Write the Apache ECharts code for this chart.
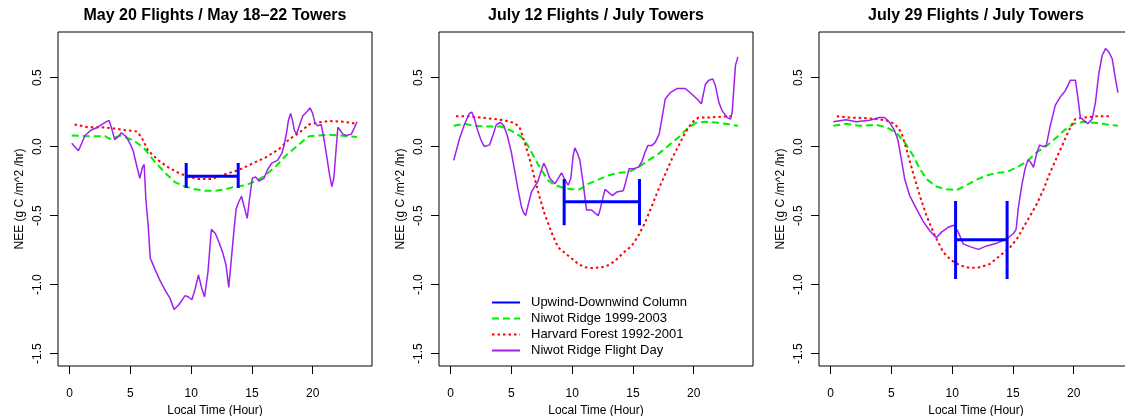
<!DOCTYPE html>
<html><head><meta charset="utf-8">
<script src="https://cdn.jsdelivr.net/npm/echarts@6/dist/echarts.min.js"></script>
<style>html,body{margin:0;padding:0;background:#fff}#c{width:1125px;height:416px}</style>
</head><body><div id="c"></div>
<script>
// ---------- data ----------
const panelTitles = ['May 20 Flights / May 18\u201322 Towers', 'July 12 Flights / July Towers', 'July 29 Flights / July Towers'];
const xTicks = [0, 5, 10, 15, 20];
const yTicks = [-1.5, -1.0, -0.5, 0.0, 0.5];
const seriesNames = ['Upwind-Downwind Column', 'Niwot Ridge 1999-2003', 'Harvard Forest 1992-2001', 'Niwot Ridge Flight Day'];

// Upwind-downwind column (per panel): start hour, end hour, value, lower, upper
const colStart = [9.59, 9.34, 10.28];
const colEnd = [13.87, 15.54, 14.52];
const colValue = [-0.215, -0.40, -0.675];
const colLow = [-0.30, -0.57, -0.96];
const colHigh = [-0.12, -0.235, -0.395];

// Panel 1: May 20
const may20Flight = [[0.17,0.024],[0.72,-0.03],[1.27,0.08],[1.77,0.12],[2.32,0.14],[2.82,0.17],[3.23,0.19],[3.43,0.14],[3.7,0.05],[3.98,0.07],[4.25,0.10],[4.67,0.07],[5.03,0.01],[5.22,-0.03],[5.44,-0.11],[5.77,-0.23],[5.99,-0.15],[6.13,-0.13],[6.27,-0.38],[6.46,-0.57],[6.63,-0.81],[6.74,-0.83],[7.02,-0.89],[7.43,-0.97],[7.85,-1.04],[8.26,-1.10],[8.59,-1.18],[8.95,-1.15],[9.5,-1.08],[9.78,-1.09],[10.06,-1.11],[10.33,-1.03],[10.6,-0.93],[10.88,-1.03],[11.1,-1.09],[11.38,-0.91],[11.66,-0.60],[11.99,-0.63],[12.27,-0.69],[12.6,-0.77],[12.87,-0.86],[13.09,-1.02],[13.31,-0.81],[13.51,-0.62],[13.7,-0.45],[13.92,-0.40],[14.14,-0.36],[14.34,-0.43],[14.61,-0.52],[14.8,-0.38],[15.03,-0.23],[15.3,-0.22],[15.58,-0.25],[15.99,-0.23],[16.27,-0.17],[16.63,-0.12],[17.1,-0.10],[17.46,-0.05],[17.65,0.01],[17.85,0.10],[18.0,0.19],[18.18,0.24],[18.34,0.19],[18.48,0.12],[18.67,0.09],[18.9,0.15],[19.17,0.22],[19.59,0.26],[19.78,0.28],[20.0,0.24],[20.19,0.17],[20.41,0.15],[20.69,0.16],[20.88,0.08],[21.1,-0.04],[21.38,-0.20],[21.57,-0.29],[21.74,-0.23],[21.88,-0.07],[22.07,0.14],[22.49,0.09],[22.76,0.08],[23.18,0.09],[23.45,0.14],[23.65,0.18]];
const may20Niwot = [[0.17,0.08],[1.5,0.075],[2.9,0.075],[3.3,0.055],[4.2,0.08],[5.36,0.04],[6.2,-0.02],[7.0,-0.11],[7.85,-0.19],[8.7,-0.26],[9.5,-0.29],[10.3,-0.31],[11.2,-0.32],[12.0,-0.32],[12.8,-0.31],[13.6,-0.29],[14.5,-0.28],[15.3,-0.25],[16.1,-0.21],[17.0,-0.14],[17.8,-0.065],[18.6,-0.005],[19.2,0.04],[19.7,0.075],[20.5,0.08],[21.4,0.085],[22.2,0.08],[23.65,0.07]];
const may20Harvard = [[0.4,0.16],[1.5,0.14],[2.6,0.14],[3.7,0.13],[4.5,0.12],[5.5,0.11],[5.9,0.07],[6.46,-0.03],[7.3,-0.10],[8.1,-0.15],[8.95,-0.19],[9.8,-0.22],[10.6,-0.235],[11.7,-0.235],[12.8,-0.20],[13.9,-0.17],[15.0,-0.125],[16.1,-0.08],[17.2,-0.02],[18.1,0.055],[18.9,0.10],[19.7,0.16],[20.5,0.175],[21.4,0.185],[22.5,0.18],[23.65,0.165]];

// Panel 2: July 12
const jul12Flight = [[0.25,-0.10],[0.72,0.055],[1.13,0.16],[1.54,0.24],[1.74,0.25],[1.96,0.20],[2.23,0.115],[2.51,0.043],[2.78,0.0],[3.2,0.012],[3.47,0.08],[3.75,0.157],[4.1,0.176],[4.38,0.15],[4.66,0.08],[4.99,-0.04],[5.26,-0.17],[5.54,-0.31],[5.81,-0.43],[6.0,-0.48],[6.17,-0.50],[6.36,-0.43],[6.64,-0.33],[6.91,-0.29],[7.19,-0.25],[7.47,-0.17],[7.66,-0.12],[7.88,-0.16],[8.15,-0.23],[8.57,-0.27],[8.93,-0.22],[9.12,-0.19],[9.34,-0.23],[9.67,-0.28],[9.89,-0.23],[10.08,-0.065],[10.22,-0.01],[10.44,-0.05],[10.63,-0.10],[10.91,-0.27],[11.18,-0.46],[11.6,-0.46],[11.87,-0.48],[12.15,-0.50],[12.29,-0.46],[12.48,-0.39],[12.7,-0.31],[12.97,-0.33],[13.3,-0.355],[13.66,-0.33],[14.2,-0.32],[14.4,-0.26],[14.68,-0.16],[15.04,-0.16],[15.45,-0.15],[15.73,-0.11],[16.0,-0.04],[16.23,0.007],[16.56,0.007],[16.83,0.03],[17.16,0.09],[17.38,0.20],[17.66,0.345],[18.07,0.39],[18.62,0.42],[19.31,0.42],[19.72,0.39],[20.28,0.345],[20.63,0.31],[20.96,0.45],[21.24,0.48],[21.57,0.49],[21.79,0.44],[22.07,0.32],[22.34,0.26],[22.76,0.21],[23.03,0.20],[23.17,0.25],[23.3,0.42],[23.44,0.59],[23.64,0.65]];
const jul12Niwot = [[0.25,0.15],[1.13,0.165],[1.96,0.15],[3.06,0.145],[4.16,0.145],[4.99,0.115],[5.81,0.07],[6.36,0.007],[6.91,-0.085],[7.47,-0.17],[8.02,-0.245],[8.57,-0.28],[9.12,-0.295],[9.94,-0.31],[10.63,-0.31],[11.32,-0.27],[12.15,-0.24],[12.97,-0.21],[13.8,-0.19],[14.63,-0.185],[15.45,-0.15],[16.28,-0.10],[17.1,-0.053],[17.93,0.007],[18.76,0.068],[19.45,0.128],[20.14,0.17],[20.96,0.18],[21.79,0.175],[22.6,0.165],[23.64,0.15]];
const jul12Harvard = [[0.44,0.22],[1.4,0.22],[2.5,0.21],[3.6,0.20],[4.44,0.19],[5.26,0.17],[5.67,0.14],[6.09,0.03],[6.5,-0.09],[6.91,-0.23],[7.33,-0.37],[7.74,-0.49],[8.29,-0.62],[8.84,-0.73],[9.39,-0.77],[9.94,-0.81],[10.5,-0.85],[11.05,-0.875],[11.6,-0.88],[12.42,-0.875],[12.97,-0.86],[13.5,-0.83],[14.2,-0.77],[14.9,-0.72],[15.45,-0.645],[16.0,-0.55],[16.56,-0.43],[17.1,-0.31],[17.66,-0.20],[18.2,-0.09],[18.76,0.007],[19.3,0.10],[19.86,0.175],[20.4,0.21],[21.24,0.21],[22.34,0.217],[23.17,0.22]];

// Panel 3: July 29
const jul29Flight = [[0.22,0.18],[1.27,0.195],[2.1,0.18],[3.2,0.19],[4.02,0.21],[4.43,0.21],[4.85,0.175],[5.26,0.115],[5.54,0.045],[5.81,-0.09],[6.09,-0.235],[6.5,-0.355],[7.05,-0.45],[7.6,-0.54],[8.15,-0.61],[8.7,-0.66],[9.12,-0.62],[9.67,-0.585],[10.14,-0.57],[10.5,-0.62],[10.91,-0.705],[11.46,-0.725],[12.15,-0.745],[12.84,-0.72],[13.66,-0.70],[14.49,-0.67],[15.04,-0.63],[15.26,-0.60],[15.45,-0.44],[15.73,-0.28],[16.0,-0.16],[16.23,-0.097],[16.42,-0.11],[16.69,-0.15],[16.91,-0.065],[17.19,0.012],[17.47,0.0],[17.74,0.007],[18.07,0.15],[18.49,0.30],[18.9,0.36],[19.31,0.405],[19.72,0.48],[20.14,0.48],[20.36,0.345],[20.55,0.21],[20.83,0.19],[21.16,0.165],[21.52,0.20],[21.79,0.32],[22.07,0.53],[22.34,0.66],[22.62,0.71],[22.89,0.685],[23.17,0.635],[23.44,0.49],[23.64,0.39]];
const jul29Niwot = [[0.22,0.15],[1.27,0.165],[2.37,0.15],[3.75,0.157],[4.57,0.14],[5.4,0.10],[6.09,0.03],[6.78,-0.065],[7.33,-0.16],[7.88,-0.235],[8.7,-0.29],[9.53,-0.31],[10.36,-0.315],[11.18,-0.28],[12.0,-0.24],[12.84,-0.21],[13.66,-0.19],[14.49,-0.185],[15.32,-0.15],[16.14,-0.11],[16.97,-0.04],[17.8,0.007],[18.6,0.068],[19.3,0.123],[20.0,0.165],[20.83,0.18],[21.93,0.17],[22.75,0.16],[23.64,0.15]];
const jul29Harvard = [[0.5,0.22],[1.54,0.21],[2.64,0.207],[3.75,0.20],[4.57,0.19],[5.26,0.165],[5.81,0.105],[6.23,-0.017],[6.78,-0.19],[7.33,-0.355],[7.88,-0.50],[8.57,-0.645],[9.26,-0.765],[9.94,-0.825],[10.63,-0.86],[11.46,-0.88],[12.29,-0.875],[13.11,-0.85],[13.94,-0.79],[14.76,-0.73],[15.32,-0.67],[15.87,-0.585],[16.42,-0.50],[16.97,-0.415],[17.52,-0.31],[18.07,-0.185],[18.62,-0.077],[19.17,0.03],[19.72,0.14],[20.14,0.20],[20.83,0.21],[21.93,0.22],[23.03,0.22]];

const flightData = [may20Flight, jul12Flight, jul29Flight];
const niwotData = [may20Niwot, jul12Niwot, jul29Niwot];
const harvardData = [may20Harvard, jul12Harvard, jul29Harvard];

// ---------- layout / style ----------
const FONT = '"Liberation Sans", Arial, Helvetica, sans-serif';
const gridLeft = [58, 439, 819];
const gridTop = 32, gridW = 314, gridH = 334;
const xMin = -0.96, xMax = 24.88, yMin = -1.59, yMax = 0.83;
const COL = {blue: '#0000ff', green: '#00ee00', red: '#ff0000', purple: '#a020f0'};
const TITLE_SIZE = 16;

const mctx = document.createElement('canvas').getContext('2d');
mctx.font = 'bold ' + TITLE_SIZE + 'px ' + FONT;

const grids = [], xAxes = [], yAxes = [], titleArr = [], series = [];
for (let i = 0; i < 3; i++) {
  grids.push({left: gridLeft[i], top: gridTop, width: gridW, height: gridH, show: true,
    outerBoundsMode: 'none', containLabel: false,
    borderColor: '#000', borderWidth: 1, backgroundColor: 'transparent'});
  xAxes.push({type: 'value', gridIndex: i, min: xMin, max: xMax, position: 'bottom',
    name: 'Local Time (Hour)', nameLocation: 'middle', nameGap: 32,
    nameTextStyle: {fontFamily: FONT, fontSize: 12, color: '#000'},
    axisLine: {show: false, onZero: false}, splitLine: {show: false},
    axisTick: {show: true, inside: false, length: 8, lineStyle: {color: '#000'}, customValues: xTicks},
    axisLabel: {show: true, customValues: xTicks, margin: 22, fontFamily: FONT, fontSize: 12, color: '#000'}});
  yAxes.push({type: 'value', gridIndex: i, min: yMin, max: yMax, position: 'left',
    name: 'NEE (g C /m^2 /hr)', nameLocation: 'middle', nameGap: 32,
    nameTextStyle: {fontFamily: FONT, fontSize: 12, color: '#000'},
    axisLine: {show: false, onZero: false}, splitLine: {show: false},
    axisTick: {show: true, inside: false, length: 8, lineStyle: {color: '#000'}, customValues: yTicks},
    axisLabel: {show: true, customValues: yTicks, rotate: 90, margin: 14, fontFamily: FONT, fontSize: 12, color: '#000',
      formatter: v => v.toFixed(1)}});
  const cx = gridLeft[i] + gridW / 2;
  const tw = mctx.measureText(panelTitles[i]).width;
  titleArr.push({text: panelTitles[i], left: cx - tw / 2, top: 8, padding: 0,
    textStyle: {fontFamily: FONT, fontSize: TITLE_SIZE, fontWeight: 'bold', color: '#000'}});

  series.push({name: seriesNames[1], type: 'line', xAxisIndex: i, yAxisIndex: i, data: niwotData[i],
    showSymbol: false, symbol: 'none', lineStyle: {color: COL.green, width: 2, type: [7, 4]}, itemStyle: {color: COL.green}, animation: false});
  series.push({name: seriesNames[2], type: 'line', xAxisIndex: i, yAxisIndex: i, data: harvardData[i],
    showSymbol: false, symbol: 'none', lineStyle: {color: COL.red, width: 2, type: [2.5, 3]}, itemStyle: {color: COL.red}, animation: false});
  series.push({name: seriesNames[3], type: 'line', xAxisIndex: i, yAxisIndex: i, data: flightData[i],
    showSymbol: false, symbol: 'none', lineStyle: {color: COL.purple, width: 1.5}, itemStyle: {color: COL.purple}, animation: false});
  const colSegs = [
    [[colStart[i], colValue[i]], [colEnd[i], colValue[i]]],
    [[colStart[i], colLow[i]], [colStart[i], colHigh[i]]],
    [[colEnd[i], colLow[i]], [colEnd[i], colHigh[i]]]
  ];
  colSegs.forEach(seg => series.push({name: seriesNames[0], type: 'line', xAxisIndex: i, yAxisIndex: i, data: seg,
    showSymbol: false, symbol: 'none', lineStyle: {color: COL.blue, width: 3}, itemStyle: {color: COL.blue}, animation: false}));
}

const chart = echarts.init(document.getElementById('c'), null, {renderer: 'canvas'});
chart.setOption({
  backgroundColor: '#fff',
  animation: false,
  title: titleArr,
  grid: grids,
  xAxis: xAxes,
  yAxis: yAxes,
  legend: {
    data: seriesNames, orient: 'vertical', left: 491, top: 296, padding: 0,
    itemWidth: 28, itemHeight: 11, itemGap: 3, selectedMode: false,
    itemStyle: {opacity: 0, borderWidth: 0},
    textStyle: {fontFamily: FONT, fontSize: 13, color: '#000', padding: [0, 0, 0, 6]}
  },
  series: series
});
</script></body></html>
